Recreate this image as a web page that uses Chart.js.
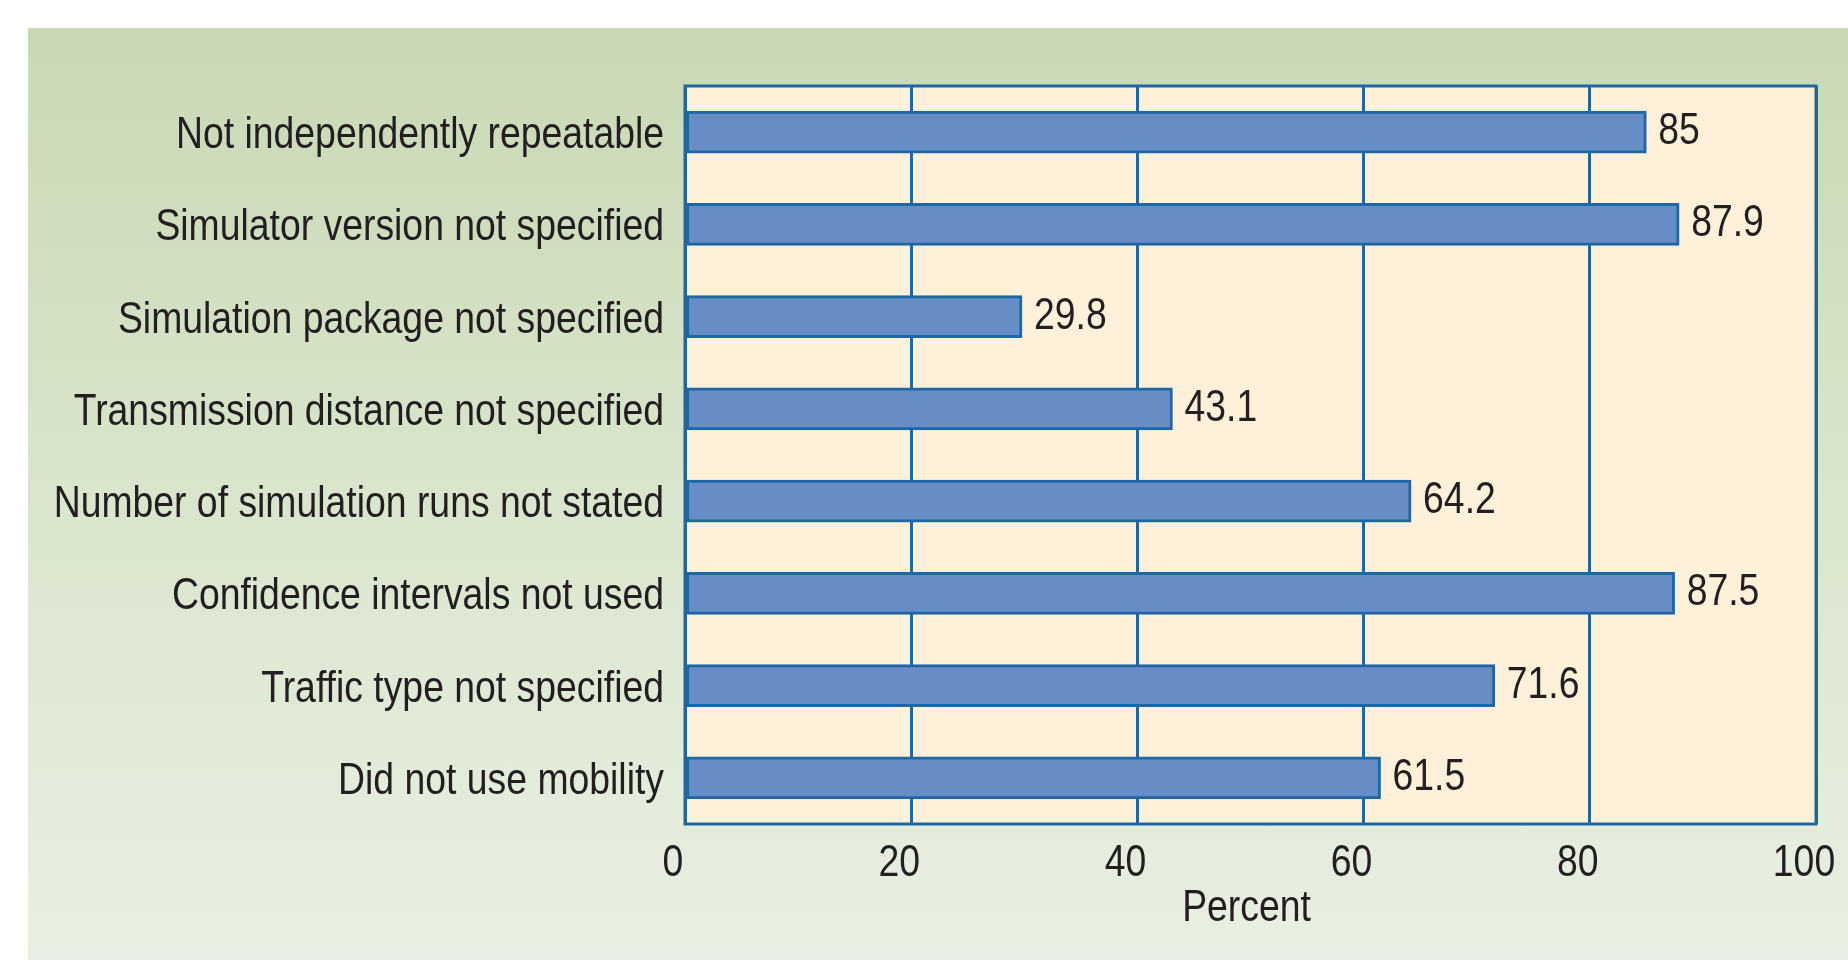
<!DOCTYPE html>
<html>
<head>
<meta charset="utf-8">
<script src="https://cdn.jsdelivr.net/npm/chart.js@4"></script>
<style>
  html, body { margin: 0; padding: 0; background: #fff; }
  #panel {
    position: absolute; left: 28px; top: 28px; width: 1820px; height: 932px;
    background: linear-gradient(to bottom, #c8d8b4 0%, #d8e4ca 45%, #e9efe2 100%);
  }
  #wrap { position: absolute; left: 0; top: 0; width: 1848px; height: 963px; }
</style>
</head>
<body>
<div id="panel"></div>
<div id="wrap"><canvas id="chart"></canvas></div>
<script>
const categories = [
    'Not independently repeatable',
    'Simulator version not specified',
    'Simulation package not specified',
    'Transmission distance not specified',
    'Number of simulation runs not stated',
    'Confidence intervals not used',
    'Traffic type not specified',
    'Did not use mobility'
];
const percentValues = [85, 87.9, 29.8, 43.1, 64.2, 87.5, 71.6, 61.5];
const valueLabels = ['85', '87.9', '29.8', '43.1', '64.2', '87.5', '71.6', '61.5'];
const xTicks = [0, 20, 40, 60, 80, 100];
const xTitle = 'Percent';

const FONT = "45px 'Liberation Sans', Arial, sans-serif";
const SQUEEZE = 0.83;   // the original type is a condensed face
const CAP = 32;         // cap height of the 45px type
const BLUE = '#1f67a3';
const TEXT = '#231f20';

// narrow text: drawn with a horizontal squeeze round its anchor point
function narrowText(ctx, text, x, y, align) {
    ctx.save();
    ctx.translate(x, y);
    ctx.scale(SQUEEZE, 1);
    ctx.textAlign = align;
    ctx.fillText(text, 0, 0);
    ctx.restore();
}

const frame = {
    id: 'frame',
    beforeDraw(chart) {
        const { ctx, chartArea: a } = chart;
        ctx.save();
        ctx.fillStyle = '#fff0da';
        ctx.fillRect(a.left, a.top, a.right - a.left, a.bottom - a.top);
        ctx.restore();
    },
    afterDatasetsDraw(chart) {
        const { ctx, chartArea: a, scales } = chart;
        ctx.save();
        ctx.strokeStyle = BLUE;
        ctx.lineWidth = 3;
        ctx.strokeRect(a.left, a.top, a.right - a.left, a.bottom - a.top);

        ctx.fillStyle = TEXT;
        ctx.font = FONT;
        ctx.textBaseline = 'alphabetic';

        // value labels at bar ends
        chart.getDatasetMeta(0).data.forEach((bar, i) => {
            narrowText(ctx, valueLabels[i], bar.x + 12, bar.y + CAP / 2 - 4, 'left');
        });

        // category labels
        categories.forEach((c, i) => {
            narrowText(ctx, c, a.left - 21, scales.y.getPixelForValue(i) + CAP / 2, 'right');
        });

        // x tick labels and title
        xTicks.forEach(v => {
            narrowText(ctx, String(v), scales.x.getPixelForValue(v) - 12, a.bottom + 52, 'center');
        });
        narrowText(ctx, xTitle, (a.left + a.right) / 2 - 4, a.bottom + 97, 'center');
        ctx.restore();
    }
};

new Chart(document.getElementById('chart'), {
    type: 'bar',
    data: {
        labels: categories,
        datasets: [{
            data: percentValues,
            backgroundColor: '#678dc6',
            borderColor: BLUE,
            borderWidth: 3,
            borderSkipped: false,
            barThickness: 42
        }]
    },
    options: {
        indexAxis: 'y',
        responsive: true,
        maintainAspectRatio: false,
        animation: false,
        layout: { padding: { top: 86, right: 32, left: 0, bottom: 0 } },
        plugins: {
            legend: { display: false },
            tooltip: { enabled: false }
        },
        scales: {
            x: {
                min: 0,
                max: 100,
                afterBuildTicks(scale) {
                    scale.ticks = xTicks.map(v => ({ value: v }));
                },
                afterFit(scale) { scale.height = 139; },
                grid: { color: BLUE, lineWidth: 3, drawTicks: false },
                border: { display: false },
                ticks: { display: false }
            },
            y: {
                afterFit(scale) { scale.width = 685; },
                grid: { display: false, drawTicks: false },
                border: { display: false },
                ticks: { display: false }
            }
        }
    },
    plugins: [frame]
});
</script>
</body>
</html>
